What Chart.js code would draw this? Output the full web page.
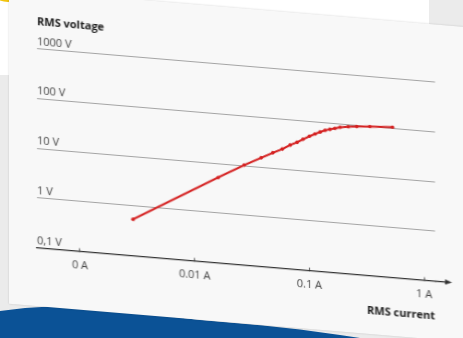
<!DOCTYPE html>
<html>
<head>
<meta charset="utf-8">
<script src="https://cdn.jsdelivr.net/npm/chart.js@4.4.1/dist/chart.umd.min.js"></script>
<style>
  html, body { margin: 0; padding: 0; width: 463px; height: 338px; overflow: hidden; background: #ebebeb; }
  #sheet { position: absolute; left: 0; top: 0; width: 429px; height: 75px; background: #ffffff; }
  #ring { position: absolute; left: -14px; top: -42px; width: 44px; height: 44px; box-sizing: border-box;
          border: 2.5px solid #f1c40f; border-radius: 50%; }
  #band { position: absolute; left: 0; top: 0; width: 463px; height: 338px; background: #0b5296;
          clip-path: polygon(0 311px, 25px 308px, 50px 306.5px, 100px 309px, 150px 314px, 200px 320px,
                             263px 325.5px, 300px 329.5px, 340px 335px, 360px 338px, 0 338px); }
  #tilt { position: absolute; left: 0; top: 0; width: 463px; height: 338px;
          transform: skewY(4.8deg); transform-origin: 0 0; }
  #card { position: absolute; left: 9px; top: -12px; width: 480px; height: 314.6px; background: #f8f8f8;
          box-shadow: 0 0 2px rgba(0,0,0,0.18); }
  #chart { position: absolute; left: 0; top: 0; }
</style>
</head>
<body>
<div id="sheet"></div>
<div id="ring"></div>
<div id="band"></div>
<div id="tilt">
  <div id="card"></div>
  <canvas id="chart" width="463" height="338"></canvas>
</div>
<script>
// Measured RMS voltage versus RMS current
const currents = [0.0029, 0.016, 0.027, 0.038, 0.048, 0.058, 0.068, 0.078, 0.088, 0.1,
                  0.112, 0.124, 0.137, 0.151, 0.167, 0.185, 0.218, 0.258, 0.337, 0.53];
const voltages = [0.54, 5.2, 10.2, 15.3, 20.2, 24.9, 30.9, 35.9, 42.4, 49.9,
                  56.8, 63.4, 69.8, 74.5, 79.4, 85.3, 90, 94, 99, 105];

// Decade ticks and their labels
const xTickValues = [0.001, 0.01, 0.1, 1];
const xTickLabels = ['0 A', '0.01 A', '0.1 A', '1 A'];
const yTickValues = [0.1, 1, 10, 100, 1000];
const yTickLabels = ['0,1 V', '1 V', '10 V', '100 V', '1000 V'];

const FONT = 'Open Sans';
const RED = '#d42020';

// Extends the current axis past the plot area and finishes it with an arrow head
const axisArrow = {
  id: 'axisArrow',
  afterDraw(chart) {
    const { ctx, chartArea } = chart;
    const y = chartArea.bottom;
    const x = chartArea.right;
    ctx.save();
    ctx.strokeStyle = '#333';
    ctx.fillStyle = '#333';
    ctx.lineWidth = 1.3;
    ctx.beginPath();
    ctx.moveTo(x, y);
    ctx.lineTo(x + 12, y);
    ctx.stroke();
    ctx.beginPath();
    ctx.moveTo(x + 17, y);
    ctx.lineTo(x + 10, y - 2.6);
    ctx.lineTo(x + 10, y + 2.6);
    ctx.closePath();
    ctx.fill();
    ctx.restore();
  }
};

new Chart(document.getElementById('chart'), {
  type: 'line',
  data: {
    datasets: [{
      data: currents.map((c, i) => ({ x: c, y: voltages[i] })),
      borderColor: RED,
      borderWidth: 2,
      pointRadius: 1.8,
      pointBackgroundColor: RED,
      pointBorderWidth: 0,
      tension: 0
    }]
  },
  plugins: [axisArrow],
  options: {
    responsive: false,
    animation: false,
    layout: { padding: { left: 37, right: 28, top: 0, bottom: 52 } },
    plugins: {
      legend: { display: false },
      tooltip: { enabled: false },
      title: {
        display: true,
        text: 'RMS voltage',
        align: 'start',
        color: '#1a1a1a',
        font: { family: FONT, size: 11, weight: 'bold' },
        padding: { top: 12, bottom: 20.3 }
      }
    },
    scales: {
      x: {
        type: 'logarithmic',
        min: 0.000422,
        max: 1.245,
        afterBuildTicks: s => { s.ticks = xTickValues.map(v => ({ value: v })); },
        ticks: {
          autoSkip: false,
          maxRotation: 0,
          padding: 11,
          color: '#444',
          font: { family: FONT, size: 11 },
          callback: (v, i) => xTickLabels[i]
        },
        grid: { drawOnChartArea: false, tickLength: -3, color: '#555' },
        border: { color: '#333', width: 1.3 },
        title: {
          display: true,
          text: 'RMS current',
          align: 'end',
          color: '#1a1a1a',
          font: { family: FONT, size: 11, weight: 'bold' },
          padding: { top: -4, bottom: 0 }
        }
      },
      y: {
        type: 'logarithmic',
        min: 0.1,
        max: 1000,
        afterBuildTicks: s => { s.ticks = yTickValues.map(v => ({ value: v })); },
        ticks: {
          mirror: true,
          padding: 0,
          labelOffset: -7,
          color: '#444',
          font: { family: FONT, size: 11 },
          callback: (v, i) => yTickLabels[i]
        },
        grid: { drawTicks: false, color: '#a4a4a4', lineWidth: 1 },
        border: { display: false }
      }
    }
  }
});
</script>
</body>
</html>
